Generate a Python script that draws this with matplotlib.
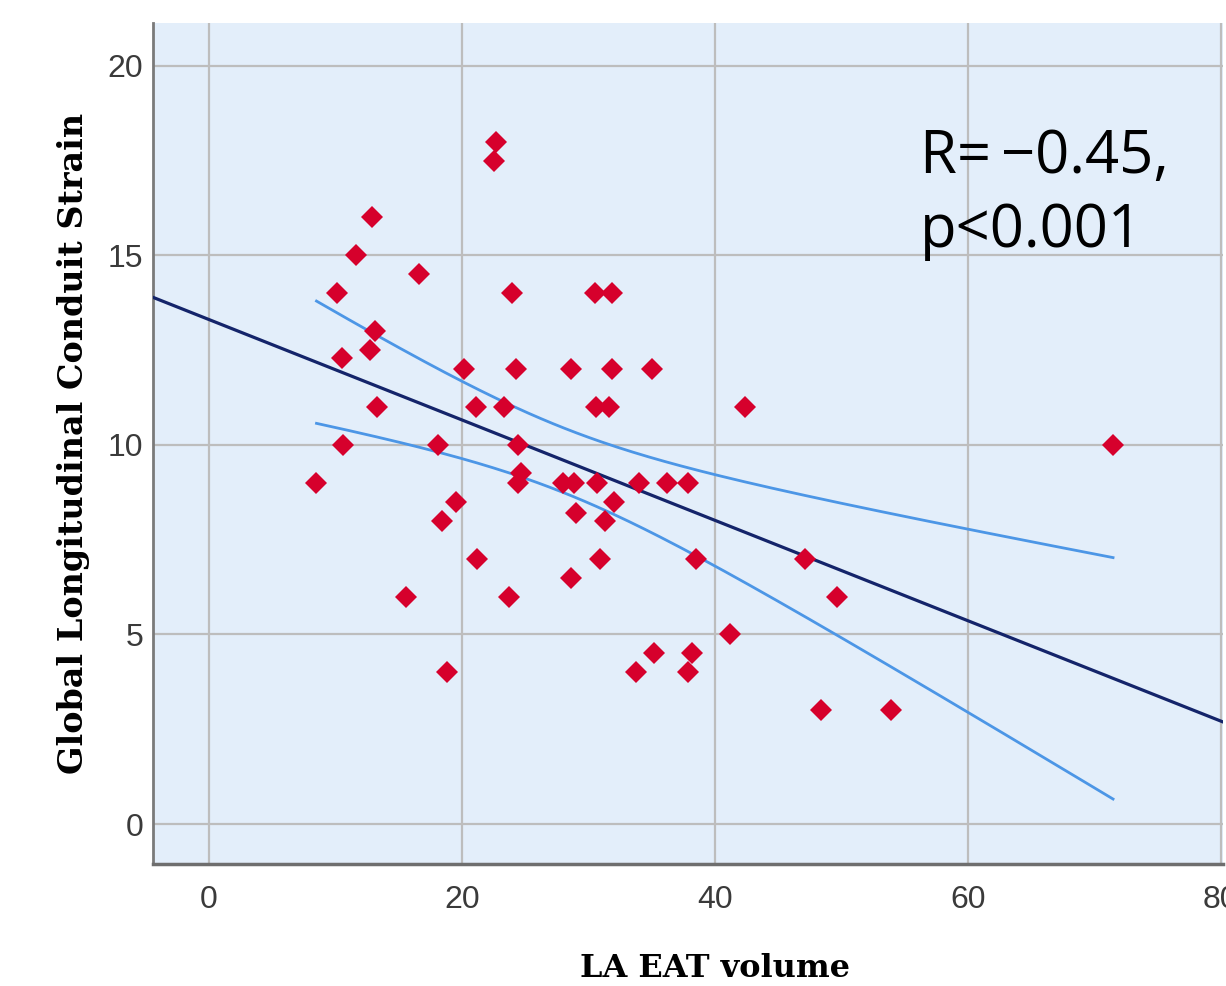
import numpy as np
import matplotlib
matplotlib.use("Agg")
import matplotlib.pyplot as plt

# LA EAT volume vs global longitudinal conduit strain
eat_volume = [8.5, 10.1, 10.5, 10.6, 11.6, 12.7, 12.9, 13.1, 13.3, 15.6,
              16.6, 18.1, 18.4, 18.8, 19.5, 20.2, 21.1, 21.2, 22.5, 22.7,
              23.3, 23.7, 24.0, 24.3, 24.4, 24.4, 24.7, 28.0, 28.9, 28.6,
              28.6, 29.0, 30.5, 31.9, 30.6, 31.6, 31.9, 30.7, 31.3, 32.0,
              30.9, 35.0, 34.0, 36.2, 37.9, 38.5, 42.4, 41.2, 35.2, 38.2,
              33.8, 37.9, 47.1, 49.7, 48.4, 53.9, 71.5]
conduit_strain = [9.0, 14.0, 12.3, 10.0, 15.0, 12.5, 16.0, 13.0, 11.0, 6.0,
                  14.5, 10.0, 8.0, 4.0, 8.5, 12.0, 11.0, 7.0, 17.5, 18.0,
                  11.0, 6.0, 14.0, 12.0, 10.0, 9.0, 9.25, 9.0, 9.0, 12.0,
                  6.5, 8.2, 14.0, 14.0, 11.0, 11.0, 12.0, 9.0, 8.0, 8.5,
                  7.0, 12.0, 9.0, 9.0, 9.0, 7.0, 11.0, 5.0, 4.5, 4.5,
                  4.0, 4.0, 7.0, 6.0, 3.0, 3.0, 10.0]
x_ticks = [0, 20, 40, 60, 80]
y_ticks = [0, 5, 10, 15, 20]
annotation = "R=\u2009\u22120.45,\np<0.001"

x = np.array(eat_volume)
y = np.array(conduit_strain)

# linear fit + 95% CI of the mean
n = len(x)
slope, intercept = np.polyfit(x, y, 1)
resid = y - (slope * x + intercept)
s = np.sqrt(np.sum(resid ** 2) / (n - 2))
t_crit = 2.004  # t(0.975, df=55)
xx = np.linspace(x.min(), x.max(), 200)
fit = slope * xx + intercept
se = s * np.sqrt(1 / n + (xx - x.mean()) ** 2 / np.sum((x - x.mean()) ** 2))

fig = plt.figure(figsize=(12.26, 9.86), dpi=100)
ax = fig.add_axes([0.1248, 0.1237, 0.8728, 0.853])
ax.set_facecolor("#E3EEFA")

ax.set_xlim(-4.43, 80.2)
ax.set_ylim(-1.055, 21.13)
ax.set_xticks(x_ticks)
ax.set_yticks(y_ticks)
ax.grid(True, color="#BDBDBD", linewidth=1.6)
ax.set_axisbelow(True)

# regression line across the full axis range
xl = np.array(ax.get_xlim())
ax.plot(xl, slope * xl + intercept, color="#14246A", linewidth=2.3, zorder=3)
ax.plot(xx, fit + t_crit * se, color="#4C96E6", linewidth=2.0, zorder=3)
ax.plot(xx, fit - t_crit * se, color="#4C96E6", linewidth=2.0, zorder=3)

ax.plot(x, y, linestyle="none", marker="D", markersize=11,
        color="#D6002C", markeredgewidth=0, zorder=4)

# annotation placed in figure pixels (origin bottom-left), baseline of last line
ax.text(920, 739, annotation, transform=None, fontsize=43,
        family=["Open Sans", "DejaVu Sans"], va="baseline", ha="left",
        linespacing=1.3)

for side in ["top", "right"]:
    ax.spines[side].set_visible(False)
ax.spines["left"].set_color("#7A7A7A")
ax.spines["left"].set_linewidth(2)
ax.spines["bottom"].set_color("#6E6E6E")
ax.spines["bottom"].set_linewidth(2.5)

ax.tick_params(length=0, labelsize=23, labelcolor="#3A3A3A")
ax.tick_params(axis="x", pad=15)
ax.tick_params(axis="y", pad=7)
for lab in ax.get_xticklabels() + ax.get_yticklabels():
    lab.set_family(["Liberation Sans", "DejaVu Sans"])

ax.set_xlabel("LA EAT volume", family="DejaVu Serif", fontweight="bold",
              fontsize=23)
ax.set_ylabel("Global Longitudinal Conduit Strain", family="DejaVu Serif",
              fontweight="bold", fontsize=24)
ax.xaxis.set_label_coords(0.525, -0.106)
ax.yaxis.set_label_coords(-0.059, 0.5)

fig.savefig("out.png", dpi=100)
